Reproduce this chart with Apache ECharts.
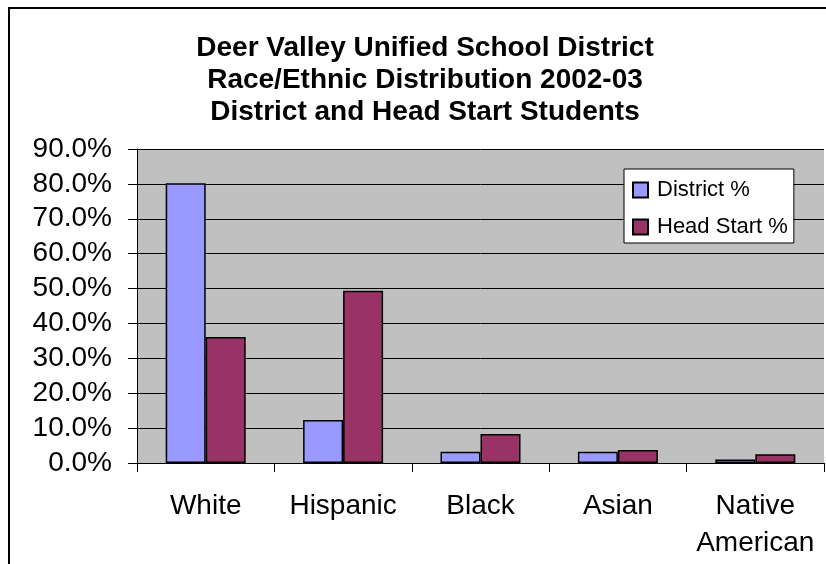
<!DOCTYPE html>
<html>
<head>
<meta charset="utf-8">
<script src="https://cdn.jsdelivr.net/npm/echarts@6/dist/echarts.min.js"></script>
<style>
html,body{margin:0;padding:0;background:#fff;}
#chart{width:826px;height:564px;}
</style>
</head>
<body>
<div id="chart"></div>
<script>
const categories = ['White', 'Hispanic', 'Black', 'Asian', 'Native\nAmerican'];
const districtPct = [0.802, 0.123, 0.032, 0.032, 0.010];
const headStartPct = [0.361, 0.494, 0.083, 0.037, 0.025];
const seriesNames = ['District %', 'Head Start %'];
const titleLines = ['Deer Valley Unified School District', 'Race/Ethnic Distribution 2002-03', 'District and Head Start Students'];

const chart = echarts.init(document.getElementById('chart'), null, {renderer: 'canvas'});
const font = 'Liberation Sans, Arial, sans-serif';
chart.setOption({
  animation: false,
  backgroundColor: '#ffffff',
  graphic: [{
    type: 'rect', z: 100, silent: true,
    shape: {x: 9, y: 8, width: 900, height: 700},
    style: {fill: 'none', stroke: '#000', lineWidth: 2}
  }],
  title: {
    text: titleLines.join('\n'),
    left: 420, top: 27, textAlign: 'center',
    textStyle: {fontFamily: font, fontWeight: 'bold', fontSize: 28, lineHeight: 32, color: '#000'}
  },
  legend: {
    orient: 'vertical', left: 624, top: 169,
    padding: [10, 6, 5, 8],
    itemWidth: 15, itemHeight: 15, itemGap: 15,
    backgroundColor: '#ffffff', borderColor: '#000', borderWidth: 1,
    icon: 'rect',
    textStyle: {fontFamily: font, fontSize: 22, lineHeight: 22, color: '#000', padding: [0, 0, 0, 4]},
    data: seriesNames
  },
  grid: {left: 137, right: 2, top: 149, bottom: 101, show: true, backgroundColor: '#C0C0C0', borderWidth: 0},
  xAxis: {
    type: 'category', data: categories,
    axisLine: {lineStyle: {color: '#000', width: 1}},
    axisTick: {show: true, length: 9, lineStyle: {color: '#000'}},
    axisLabel: {interval: 0, fontFamily: font, fontSize: 28, color: '#000', margin: 25, lineHeight: 37}
  },
  yAxis: {
    type: 'value', min: 0, max: 0.9, interval: 0.1,
    axisLine: {show: true, lineStyle: {color: '#000', width: 1}},
    axisTick: {show: true, length: 9, lineStyle: {color: '#000'}},
    splitLine: {show: true, lineStyle: {color: '#000', width: 1}},
    axisLabel: {fontFamily: font, fontSize: 28, color: '#000', margin: 25,
      formatter: v => (v * 100).toFixed(1) + '%'}
  },
  series: [
    {name: seriesNames[0], type: 'bar', data: districtPct, barWidth: 40, barGap: '0%',
     itemStyle: {color: '#9999FF', borderColor: '#000', borderWidth: 1.5}},
    {name: seriesNames[1], type: 'bar', data: headStartPct, barWidth: 40,
     itemStyle: {color: '#993366', borderColor: '#000', borderWidth: 1.5}}
  ]
});
</script>
</body>
</html>
